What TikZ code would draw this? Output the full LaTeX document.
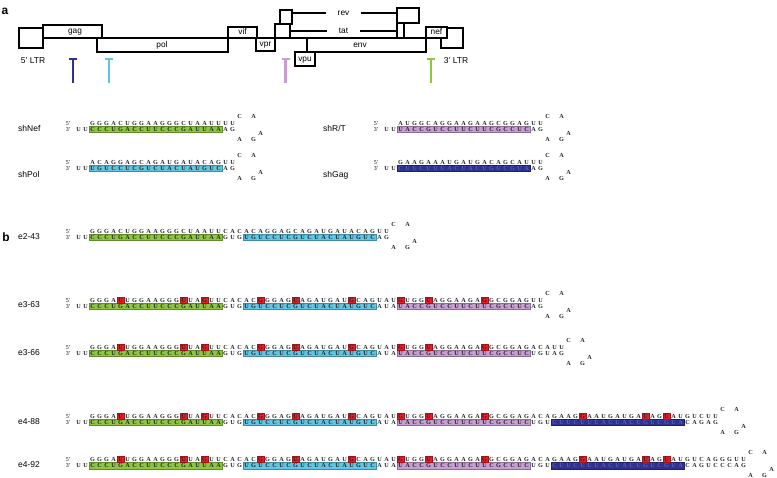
\documentclass[tikz,border=0pt]{standalone}
\usepackage{fontspec}
\setmainfont{Liberation Sans}
\newfontfamily\seqfont{Liberation Serif}

\definecolor{nefgreen}{RGB}{141,198,63}
\definecolor{polblue}{RGB}{96,198,228}
\definecolor{rtlilac}{RGB}{199,157,211}
\definecolor{gagnavy}{RGB}{46,49,146}
\definecolor{gagletter}{RGB}{88,94,186}
\definecolor{mutred}{RGB}{228,32,38}

\tikzset{
  gene/.style={draw, line width=1.2pt, fill=white},
  genelabel/.style={font=\fontsize{8.3}{9}\selectfont, inner sep=0pt, text height=5.8pt, text depth=1.7pt},
  ltr/.style={font=\fontsize{8.5}{9}\selectfont, inner sep=0pt},
  target/.style={draw=#1, line width=2.6pt},
  panel/.style={font=\fontsize{12}{13}\selectfont\bfseries, inner sep=0pt},
  rowlabel/.style={font=\fontsize{8.5}{9}\selectfont, anchor=west, inner sep=0pt, text height=6.2pt, text depth=0pt},
  nt/.style={font=\seqfont\bfseries\fontsize{6.2}{7}\selectfont, inner sep=0pt, text height=4.1pt, text depth=0pt, text=black!85},
  endmark/.style={font=\seqfont\fontsize{6}{7}\selectfont, inner sep=0pt, text height=4.1pt, text depth=0pt},
  hl/.style={draw=#1!70!black, fill=#1, line width=0.4pt},
  mut/.style={draw=mutred!70!black, fill=mutred, line width=0.4pt},
  seqcur/.style={},
}

% one strand, a letter every 7pt
\newcommand\rnastrand[5][]{% style, name, x of first letter, y, letters
  \tikzset{seqcur/.style={#1}}%
  \def\stname{#2}\def\stx{#3}\def\sty{#4}\def\sti{0}%
  \rnastep#5\relax}
\newcommand\rnastep[1]{%
  \ifx#1\relax\else
    \pgfmathtruncatemacro\sti{\sti+1}%
    \node[nt,seqcur] (\stname-\sti) at (\stx,\sty) {#1};%
    \pgfmathsetmacro\stx{\stx+7}%
    \expandafter\rnastep
  \fi}
% coloured box under the 3' strand: colour, x of first 3' letter, y, first and last letter (from 0)
\newcommand\hlbox[5]{%
  \draw[hl=#1] ({#2+7*#4-3.5},{#3-3.2}) rectangle ({#2+7*#5+3.5},{#3+3.2});}
% red box on the 5' strand: x of first 3' letter, y, letter of the 5' strand (from 1)
\newcommand\mutbox[3]{%
  \draw[mut] ({#1+7*#3+7-3.4},{#2-3.2}) rectangle ({#1+7*#3+7+3.4},{#2+3.2});}
% loop of the hairpin: name, x of last column, y of 5' strand
\newcommand\hairpin[3]{%
  \node[nt] (#1-c) at ({#2+7},{#3-7}) {C};
  \node[nt] (#1-a) at ({#2+21},{#3-7}) {A};
  \node[nt] (#1-m) at ({#2+28},{#3+10}) {A};
  \node[nt] (#1-b) at ({#2+7},{#3+16.5}) {A};
  \node[nt] (#1-g) at ({#2+21},{#3+16.5}) {G};}
\newcommand\strandends[3]{% name, x, y of 5' strand
  \node[endmark] (#1-5) at (#2,#3) {5'};
  \node[endmark] (#1-3) at (#2,{#3+6.5}) {3'};}

\begin{document}
\begin{tikzpicture}[x=1pt, y=-1pt]
\useasboundingbox (0,0) rectangle (777,478);

%% a: genome map
\node[panel] (a) at (5,11) {a};
\draw[line width=1.2pt] (43,38) -- (441,38);
\draw[gene] (19,28) rectangle (43,48);
\draw[gene] (43,25) rectangle (102,38);
\draw[gene] (97,38) rectangle (228,52);
\draw[gene] (228,27) rectangle (257,38);
\draw[gene] (256,38) rectangle (275,51);
\draw[gene] (275,24) rectangle (290,38);
\draw[gene] (280,10) rectangle (292,24);
\draw[gene] (307,38) rectangle (426,52);
\draw[gene] (295,52) rectangle (315,66);
\draw[gene] (397,8) rectangle (419,23);
\draw[gene] (397,23) rectangle (404,38);
\draw[gene] (441,28) rectangle (463,48);
\draw[gene] (426,27) rectangle (447,38);
\node[genelabel] (gag) at (75,31.5) {gag};
\node[genelabel] (pol) at (162,45) {pol};
\node[genelabel] (vif) at (242.5,32.5) {vif};
\node[genelabel] (vpr) at (265.5,44.5) {vpr};
\node[genelabel] (vpu) at (305,59) {vpu};
\node[genelabel] (env) at (360,45) {env};
\node[genelabel] (nef) at (436.5,32.5) {nef};
\node[genelabel, inner xsep=12pt] (rev) at (343.5,13) {rev};
\node[genelabel, inner xsep=12pt] (tat) at (343.5,31) {tat};
\draw[line width=1.2pt] (292,13) -- (rev) -- (397,13);
\draw[line width=1.2pt] (290,31) -- (tat) -- (397,31);
\node[ltr] (ltr5) at (33,61) {5' LTR};
\node[ltr] (ltr3) at (456,61) {3' LTR};
% shRNA targets
\draw[target=gagnavy] (69,59) -- (77,59) (73,59) -- (73,83);
\draw[target=polblue] (105,59) -- (113,59) (109,59) -- (109,83);
\draw[target=rtlilac] (281.5,59) -- (289.5,59) (285.5,59) -- (285.5,83);
\draw[target=nefgreen] (427,59) -- (435,59) (431,59) -- (431,83);

%% a: single shRNAs
% shNef
\hlbox{nefgreen}{78.5}{129.5}{2}{20}
\strandends{nef}{68}{123}
\rnastrand{nef5}{92.5}{123}{GGGACUGGAAGGGCUAAUUUU}
\rnastrand{nef3}{78.5}{129.5}{UUCCCUGACCUUCCCGAUUAAAG}
\hairpin{nefloop}{232.5}{123}
\node[rowlabel] (shnef) at (18,128) {shNef};
% shPol
\hlbox{polblue}{78.5}{168.5}{2}{20}
\strandends{pol}{68}{162}
\rnastrand{pol5}{92.5}{162}{ACAGGAGCAGAUGAUACAGUU}
\rnastrand{pol3}{78.5}{168.5}{UUUGUCCUCGUCUACUAUGUCAG}
\hairpin{polloop}{232.5}{162}
\node[rowlabel] (shpol) at (18,174) {shPol};
% shR/T
\hlbox{rtlilac}{386.5}{129.5}{2}{20}
\strandends{rt}{376}{123}
\rnastrand{rt5}{400.5}{123}{AUGGCAGGAAGAAGCGGAGUU}
\rnastrand{rt3}{386.5}{129.5}{UUUACCGUCCUUCUUCGCCUCAG}
\hairpin{rtloop}{540.5}{123}
\node[rowlabel] (shrt) at (323,128) {shR/T};
% shGag
\hlbox{gagnavy}{386.5}{168.5}{2}{20}
\strandends{gag}{376}{162}
\rnastrand{gag5}{400.5}{162}{GAAGAAAUGAUGACAGCAUUU}
\rnastrand{gag3a}{386.5}{168.5}{UU}
\rnastrand[text=gagletter]{gag3b}{400.5}{168.5}{CUUCUUUACUACUGUCGUA}
\rnastrand{gag3c}{533.5}{168.5}{AG}
\hairpin{gagloop}{540.5}{162}
\node[rowlabel] (shgag) at (323,174) {shGag};

%% b: combined hairpins
\node[panel] (b) at (6,237) {b};
% e2-43
\hlbox{nefgreen}{78.5}{237.5}{2}{20}
\hlbox{polblue}{78.5}{237.5}{24}{42}
\strandends{ea}{68}{231}
\rnastrand{ea5}{92.5}{231}{GGGACUGGAAGGGCUAAUUCACACAGGAGCAGAUGAUACAGUU}
\rnastrand{ea3}{78.5}{237.5}{UUCCCUGACCUUCCCGAUUAAGUGUGUCCUCGUCUACUAUGUCAG}
\hairpin{ealoop}{386.5}{231}
\node[rowlabel] (e243) at (18,236) {e2-43};
% e3-63
\hlbox{nefgreen}{78.5}{306.5}{2}{20}
\hlbox{polblue}{78.5}{306.5}{24}{42}
\hlbox{rtlilac}{78.5}{306.5}{46}{64}
\foreach \p in {5,14,17,25,30,38,45,49,57} {\mutbox{78.5}{300}{\p}}
\strandends{eb}{68}{300}
\rnastrand{eb5}{92.5}{300}{GGGAUUGGAAGGGUUAGUUCACACGGGAGUAGAUGAUGCAGUAUGUGGUAGGAAGAGGCGGAGUU}
\rnastrand{eb3}{78.5}{306.5}{UUCCCUGACCUUCCCGAUUAAGUGUGUCCUCGUCUACUAUGUCAUAUACCGUCCUUCUUCGCCUCAG}
\hairpin{ebloop}{540.5}{300}
\node[rowlabel] (e363) at (18,304) {e3-63};
% e3-66
\hlbox{nefgreen}{78.5}{353.5}{2}{20}
\hlbox{polblue}{78.5}{353.5}{24}{42}
\hlbox{rtlilac}{78.5}{353.5}{46}{64}
\foreach \p in {5,14,17,25,30,38,45,49,57} {\mutbox{78.5}{347}{\p}}
\strandends{ec}{68}{347}
\rnastrand{ec5}{92.5}{347}{GGGAUUGGAAGGGUUAGUUCACACGGGAGUAGAUGAUGCAGUAUGUGGUAGGAAGAGGCGGAGACAUU}
\rnastrand{ec3}{78.5}{353.5}{UUCCCUGACCUUCCCGAUUAAGUGUGUCCUCGUCUACUAUGUCAUAUACCGUCCUUCUUCGCCUCUGUAG}
\hairpin{ecloop}{561.5}{347}
\node[rowlabel] (e366) at (18,352) {e3-66};
% e4-88
\hlbox{nefgreen}{78.5}{422.5}{2}{20}
\hlbox{polblue}{78.5}{422.5}{24}{42}
\hlbox{rtlilac}{78.5}{422.5}{46}{64}
\hlbox{gagnavy}{78.5}{422.5}{68}{86}
\foreach \p in {5,14,17,25,30,38,45,49,57,71,80,83} {\mutbox{78.5}{416}{\p}}
\strandends{ed}{68}{416}
\rnastrand{ed5}{92.5}{416}{GGGAUUGGAAGGGUUAGUUCACACGGGAGUAGAUGAUGCAGUAUGUGGUAGGAAGAGGCGGAGACAGAAGGAAUGAUGAUAGUAUGUCUU}
\rnastrand{ed3a}{78.5}{422.5}{UUCCCUGACCUUCCCGAUUAAGUGUGUCCUCGUCUACUAUGUCAUAUACCGUCCUUCUUCGCCUCUGU}
\rnastrand[text=gagletter]{ed3b}{554.5}{422.5}{CUUCUUUACUACUGUCGUA}
\rnastrand{ed3c}{687.5}{422.5}{CAGAG}
\hairpin{edloop}{715.5}{416}
\node[rowlabel] (e488) at (18,421) {e4-88};
% e4-92
\hlbox{nefgreen}{78.5}{465.5}{2}{20}
\hlbox{polblue}{78.5}{465.5}{24}{42}
\hlbox{rtlilac}{78.5}{465.5}{46}{64}
\hlbox{gagnavy}{78.5}{465.5}{68}{86}
\foreach \p in {5,14,17,25,30,38,45,49,57,71,80,83} {\mutbox{78.5}{459}{\p}}
\strandends{ee}{68}{459}
\rnastrand{ee5}{92.5}{459}{GGGAUUGGAAGGGUUAGUUCACACGGGAGUAGAUGAUGCAGUAUGUGGUAGGAAGAGGCGGAGACAGAAGGAAUGAUGAUAGUAUGUCAGGGUU}
\rnastrand{ee3a}{78.5}{465.5}{UUCCCUGACCUUCCCGAUUAAGUGUGUCCUCGUCUACUAUGUCAUAUACCGUCCUUCUUCGCCUCUGU}
\rnastrand[text=gagletter]{ee3b}{554.5}{465.5}{CUUCUUUACUACUGUCGUA}
\rnastrand{ee3c}{687.5}{465.5}{CAGUCCCAG}
\hairpin{eeloop}{743.5}{459}
\node[rowlabel] (e492) at (18,464) {e4-92};
\end{tikzpicture}
\end{document}
